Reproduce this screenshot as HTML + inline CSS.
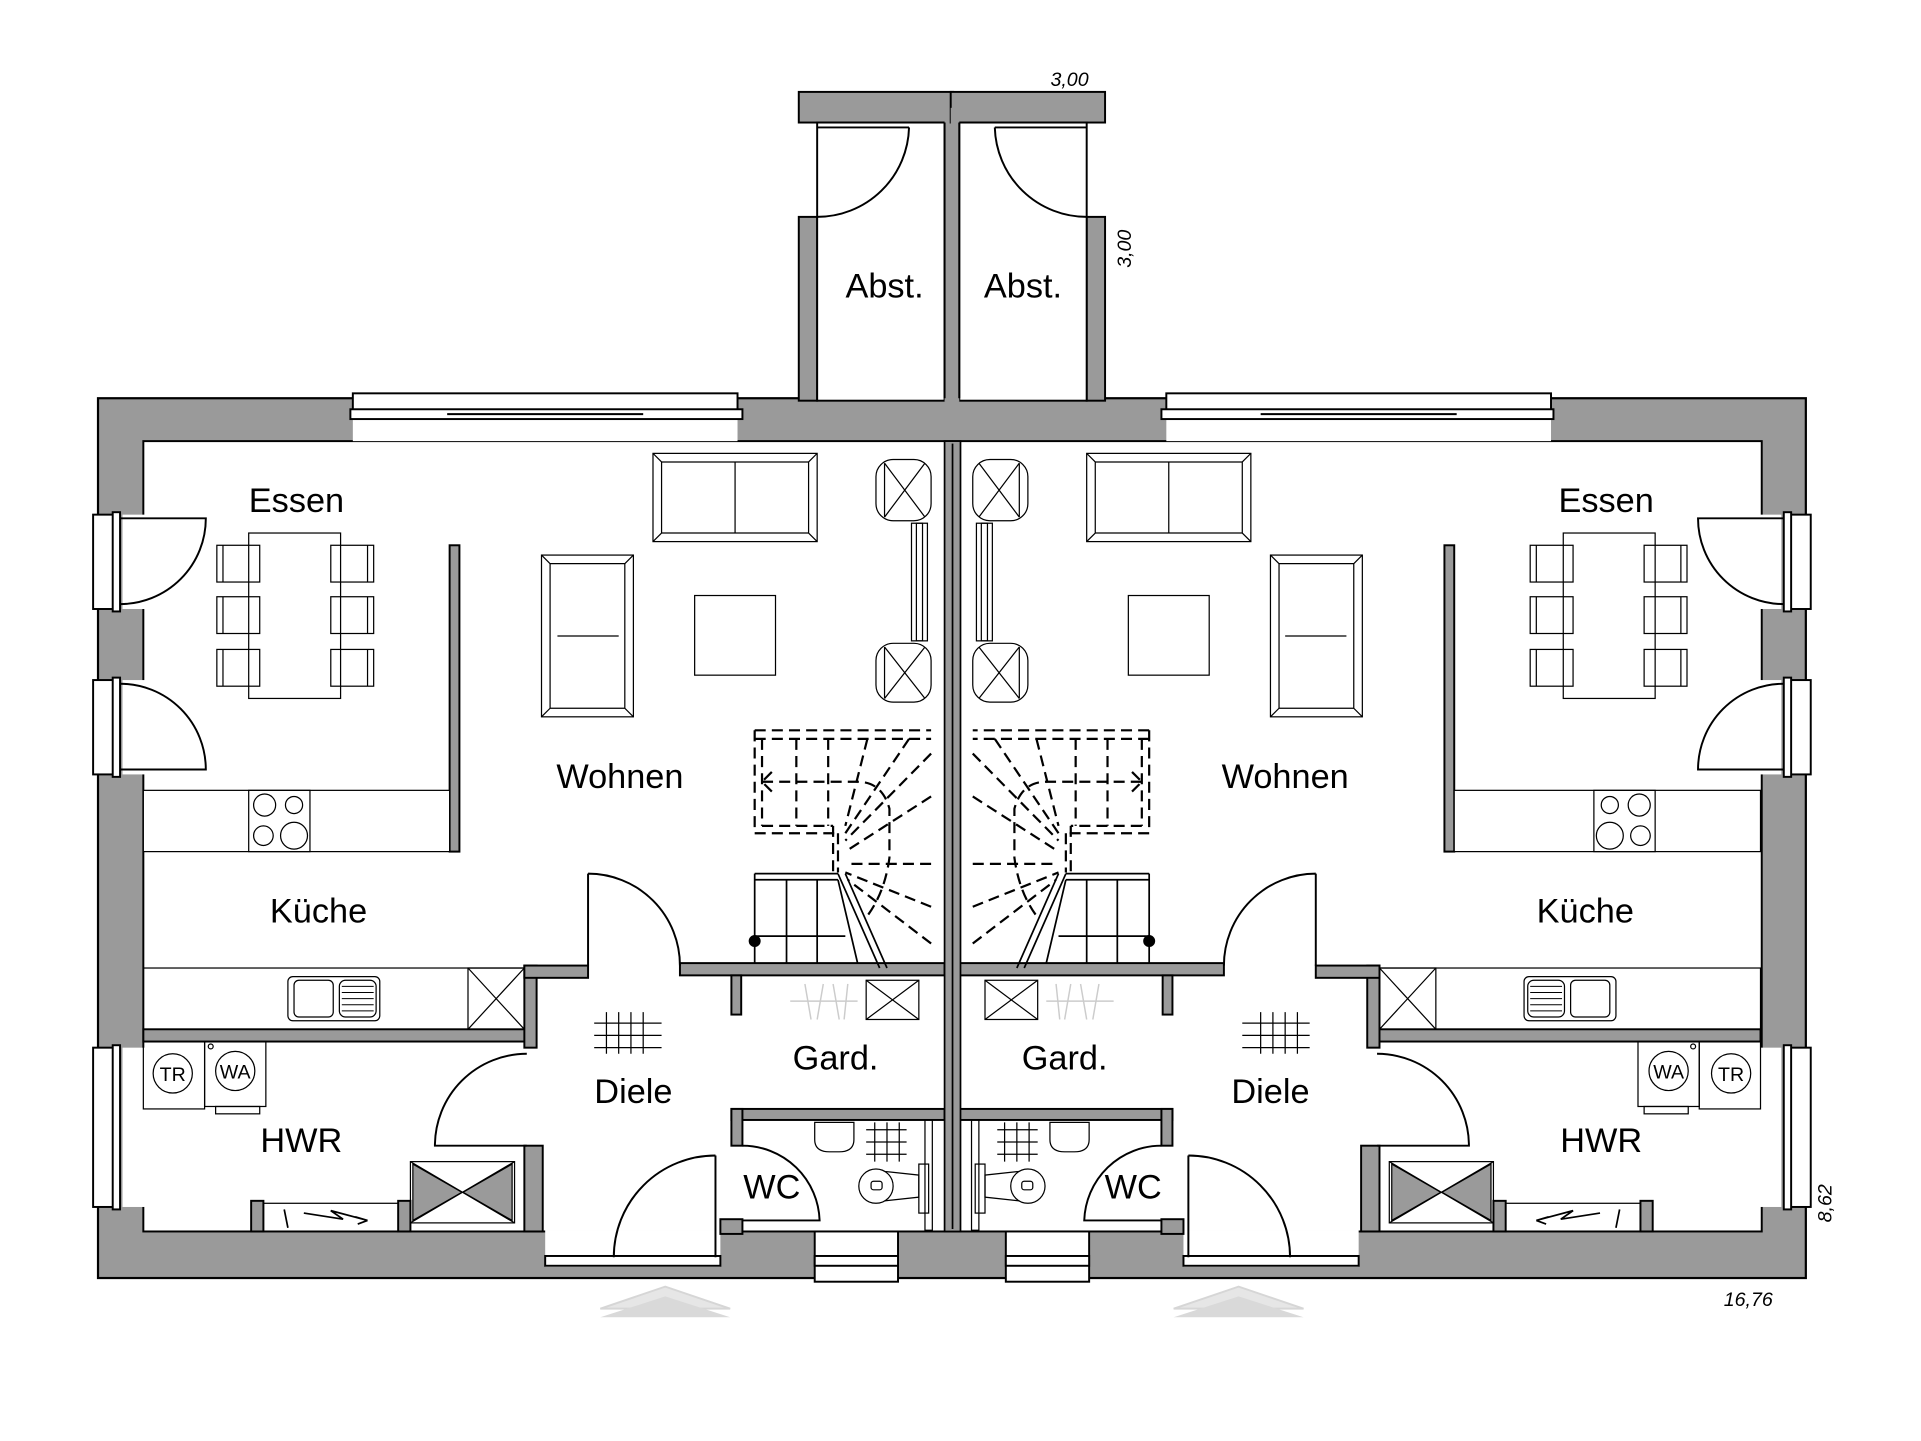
<!DOCTYPE html>
<html><head><meta charset="utf-8"><style>
html,body{margin:0;padding:0;background:#fff}
svg{display:block}
text{font-family:"Liberation Sans",sans-serif;fill:#000}
</style></head><body>
<svg width="1921" height="1441" viewBox="0 0 1568 1176" preserveAspectRatio="none" xmlns="http://www.w3.org/2000/svg">
<defs>
<g id="L" stroke="#000" stroke-width="1.6" fill="none">
  <rect x="652" y="75" width="126" height="25" fill="#9a9a9a"/>
  <rect x="652" y="177" width="15" height="150" fill="#9a9a9a"/>
  <rect x="667" y="100" width="104" height="227" fill="#fff"/>
  <rect x="771" y="88" width="7" height="240" fill="#9a9a9a" stroke="none"/>
  <line x1="771" y1="100" x2="771" y2="325"/>
  <path d="M742 104 A75 75 0 0 1 667 177" />
  <line x1="667" y1="104" x2="742" y2="104"/>
  <rect x="288" y="322" width="314" height="38" fill="#fff" stroke="none"/>
  <rect x="288" y="321" width="314" height="14" fill="#fff"/>
  <line x1="292" y1="340" x2="600" y2="340"/>
  <rect x="286" y="334" width="320" height="8" fill="#fff"/>
  <line x1="365" y1="338" x2="525" y2="338"/>
  <rect x="100" y="420" width="20" height="77" fill="#fff" stroke="none"/>
  <rect x="76" y="420" width="18" height="77" fill="#fff"/>
  <rect x="92" y="418" width="6" height="81" fill="#fff"/>
  <rect x="100" y="555" width="20" height="77" fill="#fff" stroke="none"/>
  <rect x="76" y="555" width="18" height="77" fill="#fff"/>
  <rect x="92" y="553" width="6" height="81" fill="#fff"/>
  <rect x="100" y="855" width="20" height="130" fill="#fff" stroke="none"/>
  <rect x="76" y="855" width="18" height="130" fill="#fff"/>
  <rect x="92" y="853" width="6" height="134" fill="#fff"/>
  <path d="M98 423 L168 423 A70 70 0 0 1 98 493"/>
  <path d="M98 558 A70 70 0 0 1 168 628 L98 628"/>
  <rect x="445" y="1004" width="143" height="30" fill="#fff" stroke="none"/>
  <rect x="445" y="1025" width="143" height="8" fill="#fff"/>
  <rect x="665" y="1005" width="68" height="41" fill="#fff"/>
  <rect x="665" y="1025" width="68" height="8" fill="#fff"/>
  <g fill="#9a9a9a">
    <rect x="367" y="445" width="8" height="250"/>
    <rect x="117" y="840" width="320" height="10"/>
    <rect x="428" y="788" width="10" height="67"/>
    <rect x="428" y="788" width="52" height="10"/>
    <rect x="428" y="935" width="15" height="70"/>
    <rect x="555" y="786" width="216" height="10"/>
    <rect x="597" y="796" width="8" height="32"/>
    <rect x="597" y="905" width="174" height="9"/>
    <rect x="597" y="905" width="9" height="30"/>
    <rect x="588" y="995" width="18" height="12"/>
    <rect x="205" y="980" width="10" height="25"/>
    <rect x="325" y="980" width="10" height="25"/>
  </g>
  <path d="M480 713 L480 788 M480 713 A75 75 0 0 1 555 788"/>
  <path d="M430 860 A75 75 0 0 0 355 935 L430 935"/>
  <path d="M584 943 L584 1026 M584 943 A83 83 0 0 0 501 1026"/>
  <path d="M606 935 A63 63 0 0 1 669 996 L606 996"/>
  <rect x="117" y="645" width="250" height="50" fill="#fff" stroke-width="1"/>
  <rect x="203" y="645" width="50" height="50" stroke-width="1"/>
  <circle cx="216" cy="657" r="9" stroke-width="1"/><circle cx="240" cy="657" r="7" stroke-width="1"/>
  <circle cx="215" cy="682" r="8" stroke-width="1"/><circle cx="240" cy="682" r="11" stroke-width="1"/>
  <rect x="117" y="790" width="311" height="50" stroke-width="1"/>
  <rect x="235" y="797" width="75" height="36" rx="4" stroke-width="1"/>
  <rect x="240" y="800" width="32" height="30" rx="4" stroke-width="1"/>
  <rect x="277" y="800" width="30" height="30" rx="5" stroke-width="1"/>
  <path d="M279 805h26M279 810h26M279 815h26M279 820h26M279 825h26" stroke-width="0.8"/>
  <rect x="382" y="790" width="46" height="50" stroke-width="1"/>
  <path d="M382 790 L428 840 M428 790 L382 840" stroke-width="1"/>
  <g stroke-width="1">
    <rect x="203" y="435" width="75" height="135"/>
    <rect x="177" y="445" width="35" height="30"/><rect x="177" y="487" width="35" height="30"/><rect x="177" y="530" width="35" height="30"/>
    <rect x="270" y="445" width="35" height="30"/><rect x="270" y="487" width="35" height="30"/><rect x="270" y="530" width="35" height="30"/>
    <path d="M182 445v30M182 487v30M182 530v30M300 445v30M300 487v30M300 530v30"/>
  </g>
  <g stroke-width="1">
    <rect x="533" y="370" width="134" height="72"/>
    <path d="M540 377 L660 377 L660 435 L540 435 Z M533 370 L540 377 M667 370 L660 377 M533 442 L540 435 M667 442 L660 435 M600 377 V435"/>
    <rect x="442" y="453" width="75" height="132"/>
    <path d="M449 460 L510 460 L510 578 L449 578 Z M442 453 L449 460 M517 453 L510 460 M442 585 L449 578 M517 585 L510 578 M455 519 H505"/>
    <rect x="567" y="486" width="66" height="65"/>
    <rect x="715" y="375" width="45" height="50" rx="14"/>
    <path d="M722 378 L755 422 M755 378 L722 422 M722 378 V422"/>
    <rect x="715" y="525" width="45" height="48" rx="14"/>
    <path d="M722 528 L755 570 M755 528 L722 570 M722 528 V570"/>
    <rect x="744" y="427" width="13" height="96"/>
    <rect x="748" y="427" width="5" height="96"/>
  </g>
  <g stroke-width="1.8">
    <path d="M616 596 H760 M616 603 H760 M616 596 V680 M622 603 V674 M616 680 H684 M622 674 H680 M680 674 V712 M684 680 V712 M650 603 V674 M676 603 V674 M622 638 H700 Q720 638 726 660 V700 Q722 730 706 750 M708 603 L690 674 M742 603 L690 680 M760 615 L690 686 M760 650 L690 695 M760 705 L690 705 M760 740 L690 712 M760 770 L692 718 M630 630 L622 638 L630 646" stroke-dasharray="9 5"/>
    <path d="M616 713 H684 M616 718 H684 M616 713 V786 M642 718 V786 M667 718 V786 M684 718 L700 786 M616 764 H690 M684 713 L718 790 M690 713 L724 790" stroke-width="1.4"/>
    <circle cx="616" cy="768" r="4" fill="#000"/>
  </g>
  <rect x="707" y="800" width="43" height="32" stroke-width="1"/>
  <path d="M707 800 L750 832 M750 800 L707 832" stroke-width="1"/>
  <path d="M645 817 H700 M657 803 L662 832 M672 803 L667 832 M680 803 L685 832 M692 803 L689 832" stroke="#ccc" stroke-width="1.2"/>
  <g stroke-width="1">
    <path d="M665 916 H697 V930 Q697 940 685 940 H677 Q665 940 665 930 Z"/>
    <path d="M707 922 H740 M707 932 H740 M707 942 H740 M714 916 V948 M724 916 V948 M734 916 V948"/>
    <ellipse cx="715" cy="968" rx="14" ry="14"/>
    <rect x="711" y="964" width="9" height="7" rx="2"/>
    <path d="M722 956 L750 959 V977 L722 980"/>
    <rect x="750" y="950" width="8" height="40"/>
    <rect x="755" y="914" width="6" height="90"/>
  </g>
  <g stroke-width="1">
    <rect x="117" y="850" width="50" height="55"/>
    <rect x="167" y="850" width="50" height="53"/>
    <rect x="176" y="903" width="36" height="6"/>
    <circle cx="141" cy="876" r="16"/><circle cx="192" cy="874" r="16"/>
    <circle cx="172" cy="854" r="2"/>
    <rect x="335" y="948" width="85" height="50"/>
    <path d="M335 948 L420 998 M420 948 L335 998" />
    <path d="M337 950 L377 973 L337 996 Z M418 950 L378 973 L418 996 Z" fill="#9a9a9a"/>
    <rect x="215" y="982" width="110" height="23"/>
    <path d="M232 987 L235 1002 M248 990 L280 995 L270 988 L300 996 L290 993 M300 996 L292 999" stroke-width="1.4"/>
  </g>
  <path d="M485 835 H540 M485 845 H540 M485 855 H540 M495 826 V860 M505 826 V860 M515 826 V860 M525 826 V860" stroke-width="1"/>
  <path d="M490 1068 L543 1050 L596 1068 Z" fill="#e6e6e6" stroke="#d6d6d6"/>
  <path d="M490 1075 L543 1058 L596 1075 Z" fill="#d9d9d9" stroke="none"/>
</g>
</defs>

<rect x="80" y="325" width="1394" height="718" fill="#9a9a9a" stroke="#000" stroke-width="1.8"/>
<rect x="117" y="360" width="1321" height="645" fill="#fff" stroke="#000" stroke-width="1.6"/>

<use href="#L"/>
<use href="#L" transform="translate(1554,0) scale(-1,1)"/>

<rect x="771" y="360" width="13" height="645" fill="#9a9a9a" stroke="#000" stroke-width="1.4"/>
<line x1="777.5" y1="362" x2="777.5" y2="1003" stroke="#000" stroke-width="1.4"/>

<g font-size="16" text-anchor="middle">
<text x="141" y="882">TR</text>
<text x="192" y="880">WA</text>
<text x="1362" y="880">WA</text>
<text x="1413" y="882">TR</text>
</g>

<g font-size="28">
<text x="242" y="418" text-anchor="middle">Essen</text>
<text x="1311" y="418" text-anchor="middle">Essen</text>
<text x="506" y="643" text-anchor="middle">Wohnen</text>
<text x="1049" y="643" text-anchor="middle">Wohnen</text>
<text x="260" y="753" text-anchor="middle">Küche</text>
<text x="1294" y="753" text-anchor="middle">Küche</text>
<text x="517" y="900" text-anchor="middle">Diele</text>
<text x="1037" y="900" text-anchor="middle">Diele</text>
<text x="682" y="873" text-anchor="middle">Gard.</text>
<text x="869" y="873" text-anchor="middle">Gard.</text>
<text x="630" y="978" text-anchor="middle">WC</text>
<text x="925" y="978" text-anchor="middle">WC</text>
<text x="246" y="940" text-anchor="middle">HWR</text>
<text x="1307" y="940" text-anchor="middle">HWR</text>
<text x="722" y="243" text-anchor="middle">Abst.</text>
<text x="835" y="243" text-anchor="middle">Abst.</text>
</g>
<g font-size="16" font-style="italic" fill="#222">
<text x="873" y="70" text-anchor="middle">3,00</text>
<text transform="translate(923,203) rotate(-90)" text-anchor="middle">3,00</text>
<text transform="translate(1495,982) rotate(-90)" text-anchor="middle">8,62</text>
<text x="1427" y="1066" text-anchor="middle">16,76</text>
</g>
</svg>
</body></html>
